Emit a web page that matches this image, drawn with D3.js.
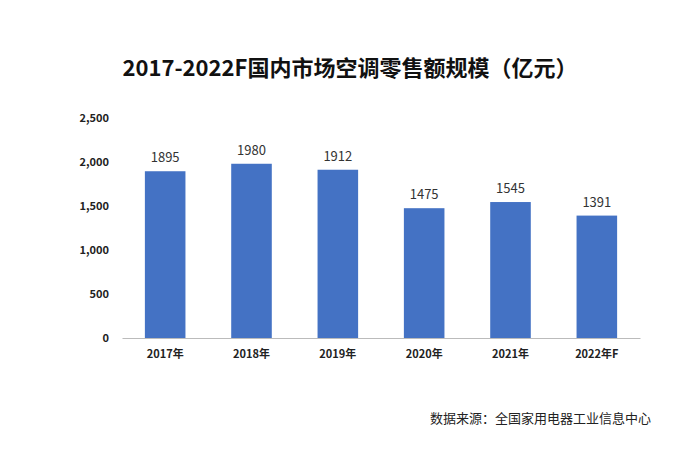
<!DOCTYPE html><html><head><meta charset="utf-8"><script src="https://d3js.org/d3.v7.min.js"></script>
<style>body{margin:0;background:#fff}</style></head><body><svg id="c" width="693" height="475"></svg>
<script>
const categories=["2017年","2018年","2019年","2020年","2021年","2022年F"];
const values=[1895,1980,1912,1475,1545,1391];
const yTicks=[0,500,1000,1500,2000,2500];
const svg=d3.select("#c");
const font="'Noto Sans CJK SC','Noto Sans',sans-serif";
svg.append("text").attr("x",350).attr("y",76).attr("text-anchor","middle").attr("font-family",font).attr("font-weight","bold").attr("font-size",22).attr("fill","#111").text("2017-2022F国内市场空调零售额规模（亿元）");
const x=d3.scaleBand().domain(categories).range([122,640]).paddingInner(0.53).paddingOuter(0.265);
const y=d3.scaleLinear().domain([0,2500]).range([338,118]);
const ya=svg.append("g").attr("transform","translate(112,0)").call(d3.axisLeft(y).tickValues(yTicks).tickFormat(d3.format(",")).tickSize(0));
ya.select(".domain").remove();
ya.selectAll("text").attr("font-family",font).attr("font-weight","bold").attr("font-size",11).attr("fill","#222");
svg.selectAll("rect.b").data(values).join("rect").attr("class","b").attr("x",(d,i)=>x(categories[i])).attr("width",x.bandwidth()).attr("y",d=>y(d)).attr("height",d=>y(0)-y(d)).attr("fill","#4472C4");
svg.selectAll("text.v").data(values).join("text").attr("class","v").attr("x",(d,i)=>x(categories[i])+x.bandwidth()/2).attr("y",d=>y(d)-9).attr("text-anchor","middle").attr("font-family",font).attr("font-size",13).attr("fill","#333").text(d=>d);
const xa=svg.append("g").attr("transform","translate(0,338)").call(d3.axisBottom(x).tickSize(0).tickPadding(12));
xa.select(".domain").attr("stroke","#bbb");
xa.selectAll("text").attr("font-family",font).attr("font-weight","bold").attr("font-size",11).attr("fill","#222");
svg.append("text").attr("x",651).attr("y",423).attr("text-anchor","end").attr("font-family",font).attr("font-size",13).attr("fill","#222").text("数据来源：全国家用电器工业信息中心");
</script></body></html>
